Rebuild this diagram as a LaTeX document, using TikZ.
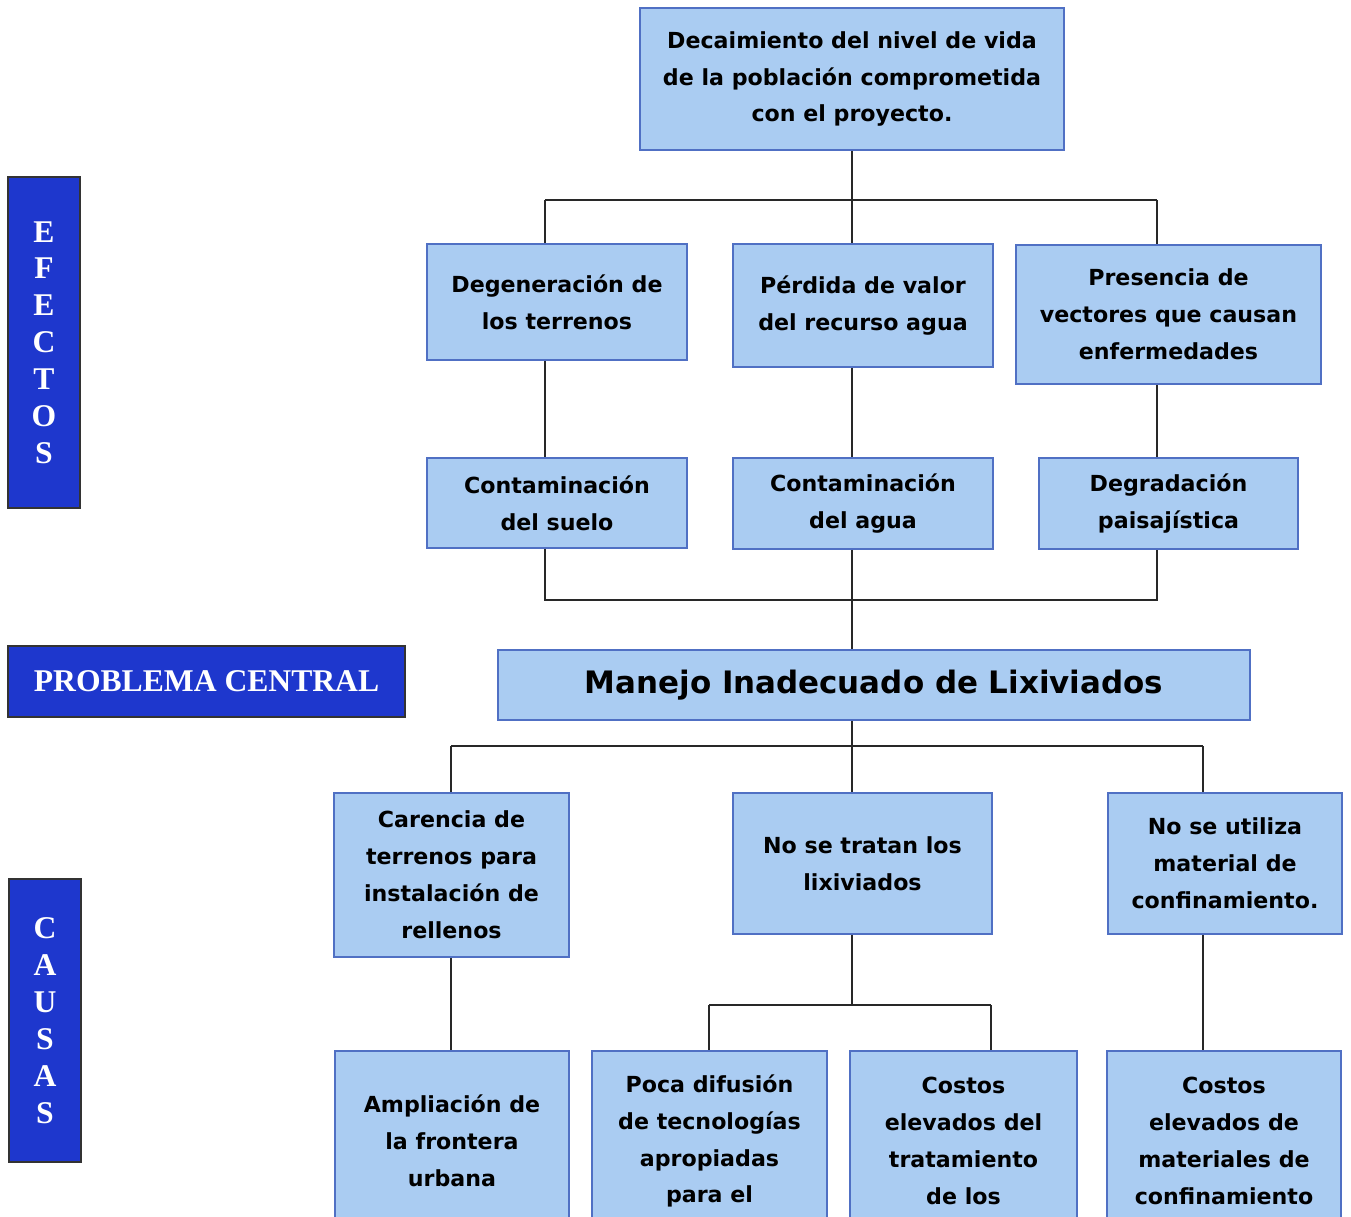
\documentclass[tikz,border=0pt]{standalone}
\usepackage{fontspec}
\usepackage{tikz}
\setmainfont{DejaVu Sans}
\newfontfamily\rotfont{Liberation Serif}
\definecolor{cajafondo}{RGB}{170,204,242}
\definecolor{cajaborde}{RGB}{80,112,196}
\definecolor{rotfondo}{RGB}{30,55,205}
\definecolor{linea}{RGB}{40,40,40}

\begin{document}
\begin{tikzpicture}[x=0.02cm,y=-0.02cm,
  caja/.style={rectangle,draw=cajaborde,fill=cajafondo,line width=0.9pt,align=center,
    inner sep=2pt,font=\bfseries\fontsize{12.6}{21}\selectfont},
  rotulo/.style={rectangle,draw=black!80,fill=rotfondo,line width=0.8pt,align=center,
    text=white,inner sep=0pt,font=\rotfont\bfseries\fontsize{18}{21}\selectfont},
  enlace/.style={draw=linea,line width=1.1pt}]
\useasboundingbox (0,0) rectangle (1351,1216);

% rotulos de la izquierda
\node [rotulo,minimum width=1.44cm,minimum height=6.62cm] (efectos) at (44,342.5) {E\\F\\E\\C\\T\\O\\S};
\node [rotulo,minimum width=7.94cm,minimum height=1.42cm] (central) at (206.5,681.5) {PROBLEMA CENTRAL};
\node [rotulo,minimum width=1.44cm,minimum height=5.66cm] (causas) at (45,1020.5) {C\\A\\U\\S\\A\\S};

% efectos
\node [caja,minimum width=8.48cm,minimum height=2.84cm] (deca) at (852,79) {Decaimiento del nivel de vida\\de la población comprometida\\con el proyecto.};
\node [caja,minimum width=5.2cm,minimum height=2.32cm] (dege) at (557,302) {Degeneración de\\los terrenos};
\node [caja,minimum width=5.2cm,minimum height=2.46cm] (perd) at (863,305.5) {Pérdida de valor\\del recurso agua};
\node [caja,minimum width=6.1cm,minimum height=2.78cm] (pres) at (1168.5,314.5) {Presencia de\\vectores que causan\\enfermedades};
\node [caja,minimum width=5.2cm,minimum height=1.8cm] (csuelo) at (557,503) {Contaminación\\del suelo};
\node [caja,minimum width=5.2cm,minimum height=1.82cm] (cagua) at (863,503.5) {Contaminación\\del agua};
\node [caja,minimum width=5.18cm,minimum height=1.82cm] (degr) at (1168.5,503.5) {Degradación\\paisajística};

% problema central
\node [caja,minimum width=15.04cm,minimum height=1.4cm,font=\bfseries\fontsize{17.6}{22}\selectfont] (mane) at (874,685) {Manejo Inadecuado de Lixiviados};

% causas
\node [caja,minimum width=4.7cm,minimum height=3.28cm] (care) at (451.5,875) {Carencia de\\terrenos para\\instalación de\\rellenos};
\node [caja,minimum width=5.18cm,minimum height=2.82cm] (trat) at (862.5,863.5) {No se tratan los\\lixiviados};
\node [caja,minimum width=4.68cm,minimum height=2.82cm] (util) at (1225,863.5) {No se utiliza\\material de\\confinamiento.};
\node [caja,minimum width=4.68cm,minimum height=3.6cm] (ampl) at (452,1141) {Ampliación de\\la frontera\\urbana};
\node [caja,minimum width=4.7cm,minimum height=3.6cm] (poca) at (709.5,1141) {Poca difusión\\de tecnologías\\apropiadas\\para el};
\node [caja,minimum width=4.54cm,minimum height=3.6cm] (cost) at (963.5,1141) {Costos\\elevados del\\tratamiento\\de los};
\node [caja,minimum width=4.68cm,minimum height=3.6cm] (cmat) at (1224,1141) {Costos\\elevados de\\materiales de\\confinamiento};

% uniones
\coordinate (ea) at (545,200);
\coordinate (ec) at (1157,200);
\coordinate (fa) at (545,600);
\coordinate (fc) at (1157,600);
\coordinate (ca) at (451,746);
\coordinate (cc) at (1203,746);
\coordinate (da) at (709,1005);
\coordinate (dc) at (991,1005);

\draw [enlace] (deca.south) -- (deca |- ea);
\draw [enlace] (ea) -- (ec);
\draw [enlace] (ea) -- (ea |- dege.north);
\draw [enlace] (deca |- ea) -- (deca |- perd.north);
\draw [enlace] (ec) -- (ec |- pres.north);
\draw [enlace] (ea |- dege.south) -- (ea |- csuelo.north);
\draw [enlace] (deca |- perd.south) -- (deca |- cagua.north);
\draw [enlace] (ec |- pres.south) -- (ec |- degr.north);
\draw [enlace] (fa |- csuelo.south) -- (fa) -- (fc) -- (fc |- degr.south);
\draw [enlace] (deca |- cagua.south) -- (deca |- mane.north);
\draw [enlace] (deca |- mane.south) -- (deca |- ca);
\draw [enlace] (ca) -- (cc);
\draw [enlace] (ca) -- (ca |- care.north);
\draw [enlace] (deca |- ca) -- (deca |- trat.north);
\draw [enlace] (cc) -- (cc |- util.north);
\draw [enlace] (ca |- care.south) -- (ca |- ampl.north);
\draw [enlace] (deca |- trat.south) -- (deca |- da);
\draw [enlace] (da) -- (dc);
\draw [enlace] (da) -- (da |- poca.north);
\draw [enlace] (dc) -- (dc |- cost.north);
\draw [enlace] (cc |- util.south) -- (cc |- cmat.north);
\end{tikzpicture}
\end{document}
